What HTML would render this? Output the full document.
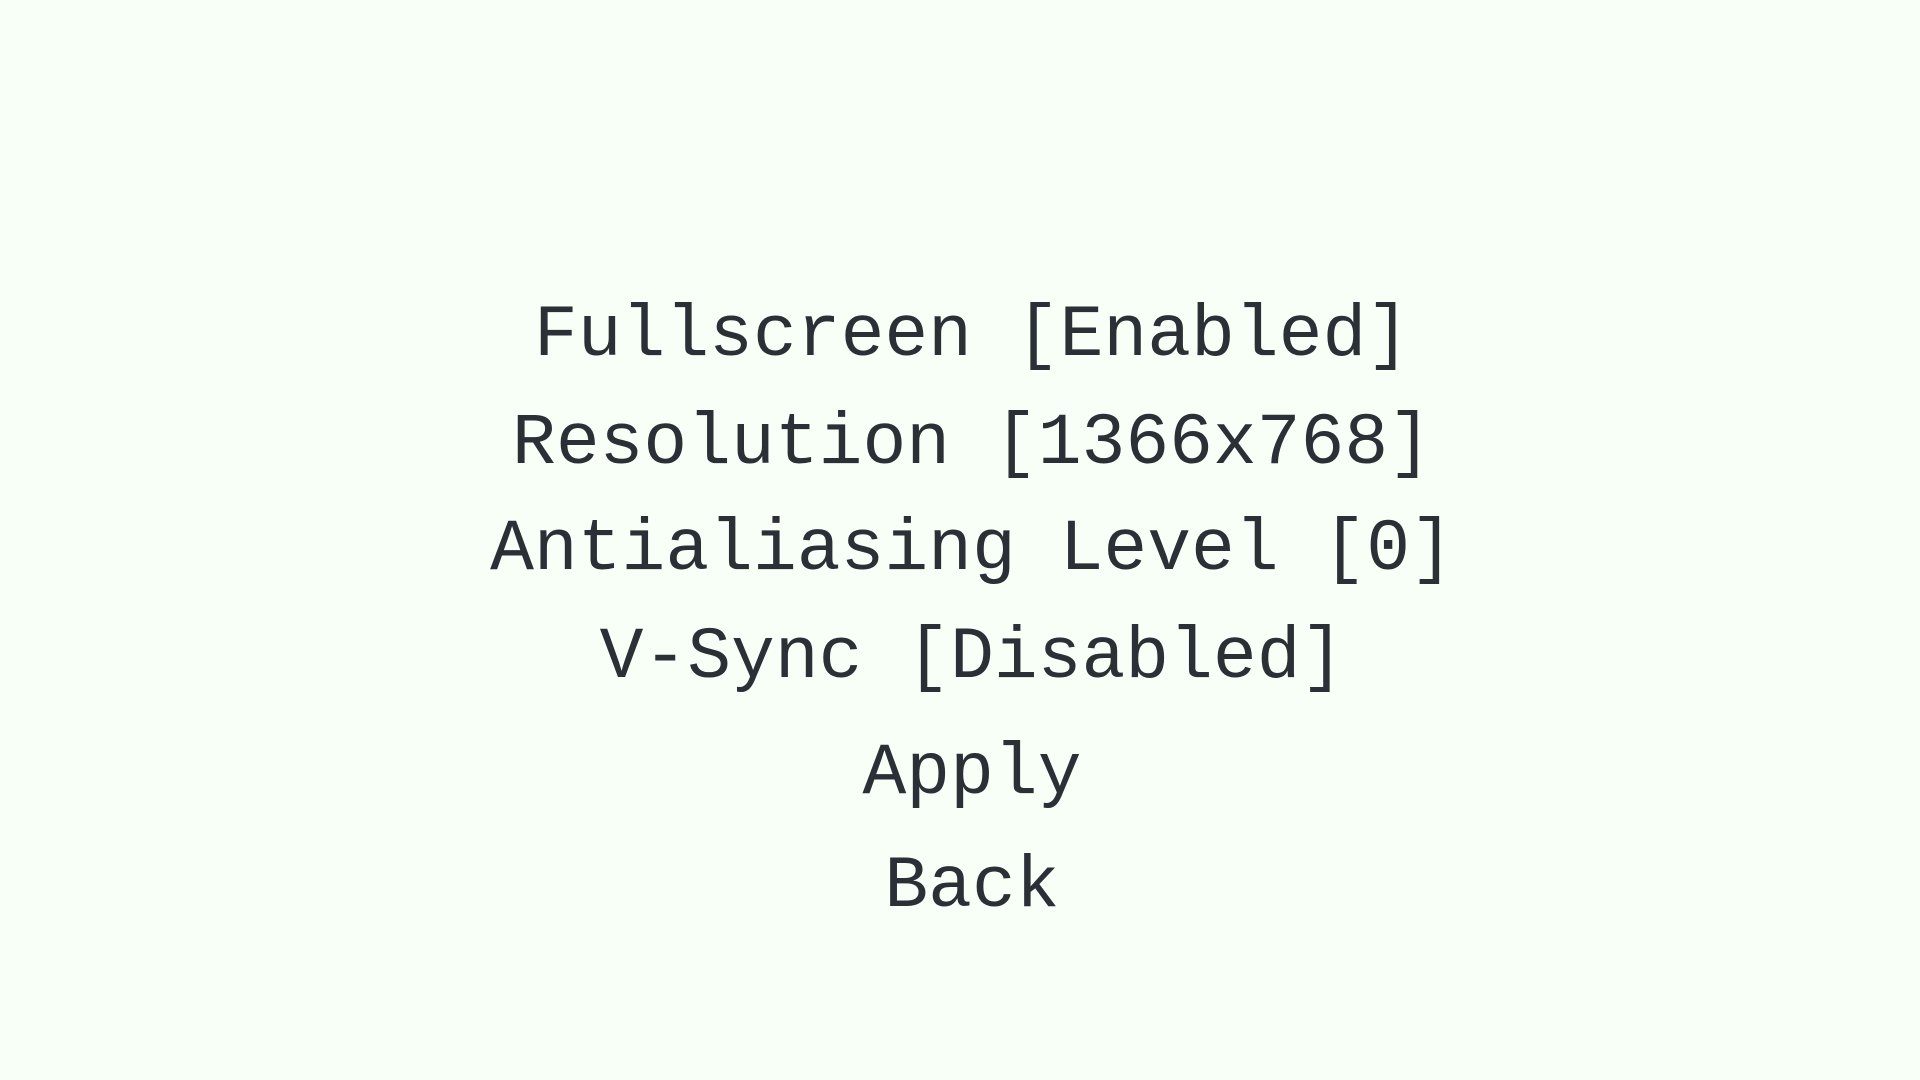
<!DOCTYPE html>
<html>
<head>
<meta charset="utf-8">
<style>
  html,body{margin:0;padding:0;}
  body{width:1920px;height:1080px;background:#f7fff7;position:relative;overflow:hidden;
       font-family:"Liberation Mono",monospace;color:#2b2f36;}
  .l{position:absolute;left:12px;width:1920px;text-align:center;font-size:73px;line-height:73px;white-space:pre;}
</style>
</head>
<body>
<div class="l" style="top:299px">Fullscreen [Enabled]</div>
<div class="l" style="top:407px">Resolution [1366x768]</div>
<div class="l" style="top:513px">Antialiasing Level [0]</div>
<div class="l" style="top:621px">V-Sync [Disabled]</div>
<div class="l" style="top:737px">Apply</div>
<div class="l" style="top:850px">Back</div>
</body>
</html>
